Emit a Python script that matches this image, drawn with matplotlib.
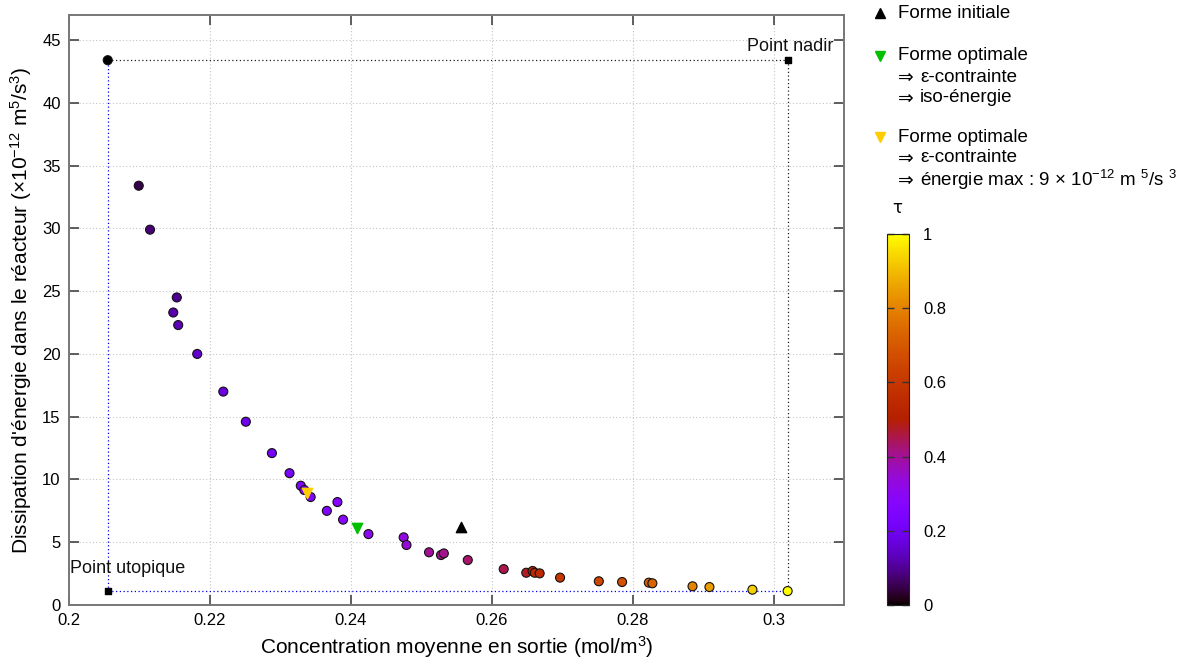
import matplotlib
matplotlib.use("Agg")
import matplotlib.pyplot as plt
import numpy as np
from matplotlib.lines import Line2D

plt.rcParams['font.family'] = ['Liberation Sans', 'DejaVu Sans']
plt.rcParams['mathtext.fontset'] = 'custom'
plt.rcParams['mathtext.rm'] = 'Liberation Sans'
plt.rcParams['mathtext.it'] = 'Liberation Sans'
plt.rcParams['mathtext.default'] = 'regular'

# ---- data ----
conc = [0.2055, 0.2099, 0.2115, 0.2153, 0.2148, 0.2155, 0.2182, 0.2219, 0.2251,
        0.2288, 0.2313, 0.2329, 0.2334, 0.2343, 0.2381, 0.2366, 0.2389, 0.2425,
        0.2475, 0.2479, 0.2511, 0.2528, 0.2532, 0.2566, 0.2617, 0.2649, 0.2658,
        0.2661, 0.2668, 0.2697, 0.2752, 0.2785, 0.2823, 0.2828, 0.2885, 0.2909,
        0.2970, 0.3020]
energy = [43.4, 33.4, 29.9, 24.5, 23.3, 22.3, 20.0, 17.0, 14.6,
          12.1, 10.5, 9.5, 9.16, 8.6, 8.2, 7.5, 6.8, 5.65,
          5.39, 4.78, 4.2, 3.98, 4.11, 3.58, 2.86, 2.57, 2.71,
          2.57, 2.52, 2.18, 1.89, 1.83, 1.78, 1.73, 1.49, 1.43,
          1.22, 1.11]
tau = [0.0, 0.05, 0.08, 0.10, 0.12, 0.13, 0.15, 0.17, 0.19,
       0.21, 0.23, 0.25, 0.25, 0.25, 0.27, 0.26, 0.28, 0.30,
       0.33, 0.34, 0.40, 0.41, 0.41, 0.43, 0.45, 0.48, 0.53,
       0.54, 0.55, 0.60, 0.65, 0.68, 0.72, 0.73, 0.80, 0.85,
       0.93, 1.0]

utopia = (0.2055, 1.11)
nadir = (0.3020, 43.4)
initial_shape = (0.2557, 6.2)
optimal_iso = (0.2409, 6.15)
optimal_max = (0.2338, 8.94)

xticks = [0.2, 0.22, 0.24, 0.26, 0.28, 0.3]
xticklabels = ['0.2', '0.22', '0.24', '0.26', '0.28', '0.3']
yticks = [0, 5, 10, 15, 20, 25, 30, 35, 40, 45]
cticks = [0, 0.2, 0.4, 0.6, 0.8, 1]
cticklabels = ['0', '0.2', '0.4', '0.6', '0.8', '1']

fig = plt.figure(figsize=(11.98, 6.60), dpi=100)
ax = fig.add_axes([69/1198, 1-605/660, (844-69)/1198, (605-15)/660])

ax.set_xlim(0.2, 0.31)
ax.set_ylim(0, 47)

# reference lines
ax.plot([utopia[0], utopia[0]], [utopia[1], nadir[1]], color='#0000ee', ls=(0, (1, 2)), lw=0.9, zorder=2)
ax.plot([utopia[0], nadir[0]], [utopia[1], utopia[1]], color='#0000ee', ls=(0, (1, 2)), lw=0.9, zorder=2)
ax.plot([utopia[0], nadir[0]], [nadir[1], nadir[1]], color='#222222', ls=(0, (1, 2)), lw=0.9, zorder=2)
ax.plot([nadir[0], nadir[0]], [nadir[1], utopia[1]], color='#222222', ls=(0, (1, 2)), lw=0.9, zorder=2)

sc = ax.scatter(conc, energy, c=tau, cmap='gnuplot', vmin=0, vmax=1, s=42,
                edgecolors='#111111', linewidths=0.8, zorder=4)

ax.scatter([utopia[0], nadir[0]], [utopia[1], nadir[1]], marker='s', s=22, color='black', zorder=5)

ax.scatter([initial_shape[0]], [initial_shape[1]], marker='^', s=55, color='black', zorder=6)
ax.scatter([optimal_iso[0]], [optimal_iso[1]], marker='v', s=55, color='#00c000', zorder=6)
ax.scatter([optimal_max[0]], [optimal_max[1]], marker='v', s=55, color='#ffcc00', zorder=6)

ax.text(0.2002, 2.2, 'Point utopique', fontsize=13, color='#111111', ha='left', va='bottom')
ax.text(0.3085, 43.8, 'Point nadir', fontsize=13, color='#111111', ha='right', va='bottom')

ax.set_xticks(xticks)
ax.set_xticklabels(xticklabels)
ax.set_yticks(yticks)
ax.grid(True, color='#c4c4c4', ls=(0, (1, 2)), lw=0.8)
ax.set_axisbelow(True)
ax.tick_params(direction='in', top=True, right=True, length=7, width=1.2,
               labelsize=12, color='#444444', pad=6)
for sp in ax.spines.values():
    sp.set_color('#777777')
    sp.set_linewidth(1.4)

ax.set_xlabel('Concentration moyenne en sortie (mol/m$^3$)', fontsize=15, labelpad=4)
ax.set_ylabel("Dissipation d'énergie dans le réacteur (×10$^{-12}$ m$^5$/s$^3$)", fontsize=15, labelpad=6)

# colorbar
cax = fig.add_axes([887/1198, 1-605/660, 22/1198, (605-234)/660])
cb = fig.colorbar(sc, cax=cax)
cb.set_ticks(cticks)
cb.set_ticklabels(cticklabels)
cax.tick_params(direction='in', left=True, right=True, length=5, width=1, labelsize=12, pad=10, color='#333333')
cb.outline.set_edgecolor('#222222')
fig.text(897/1198, 1-208/660, 'τ', fontsize=12, ha='center', va='center', family=['DejaVu Sans'])

# legend as text
fs = 13.5
lx_m = 880/1198
lx_t = 898/1198
lx_t2 = 920/1198
def ypos(py):
    return 1 - py/660
def arrow_line(py, txt):
    fig.text(lx_t, ypos(py), '⇒', fontsize=fs, va='center', family=['DejaVu Sans'])
    fig.text(lx_t2, ypos(py), txt, fontsize=fs, va='center')

fig.add_artist(Line2D([lx_m], [ypos(13)], marker='^', color='black', markersize=7, ls='none', transform=fig.transFigure))
fig.text(lx_t, ypos(13), 'Forme initiale', fontsize=fs, va='center')
fig.add_artist(Line2D([lx_m], [ypos(56)], marker='v', color='#00c000', markersize=7, ls='none', transform=fig.transFigure))
fig.text(lx_t, ypos(56), 'Forme optimale', fontsize=fs, va='center')
arrow_line(77, 'ε-contrainte')
arrow_line(98, 'iso-énergie')
fig.add_artist(Line2D([lx_m], [ypos(137)], marker='v', color='#ffcc00', markersize=7, ls='none', transform=fig.transFigure))
fig.text(lx_t, ypos(137), 'Forme optimale', fontsize=fs, va='center')
arrow_line(158, 'ε-contrainte')
arrow_line(180, 'énergie max : 9 × 10$^{-12}$ m $^5$/s $^3$')

fig.savefig('out.png', dpi=100)
